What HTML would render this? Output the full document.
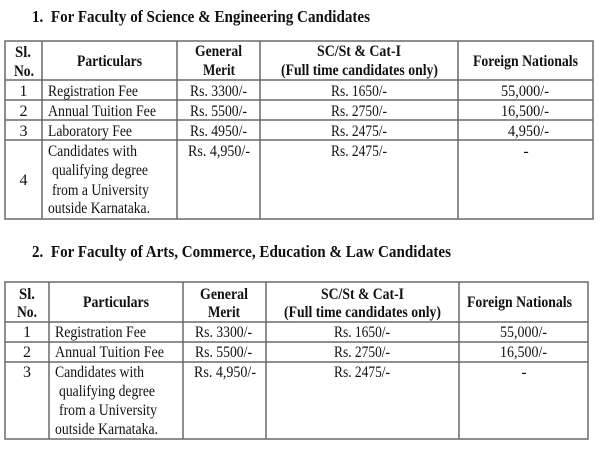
<!DOCTYPE html>
<html><head><meta charset="utf-8"><style>
html,body{margin:0;padding:0;background:#fff;}
svg{display:block;}
text{font-family:"Liberation Serif","Times New Roman",serif;fill:#111;}
.b{font-weight:bold;}
</style></head><body>
<svg width="600" height="450" viewBox="0 0 600 450" xmlns="http://www.w3.org/2000/svg">
<rect width="600" height="450" fill="#fff"/>
<!-- Title 1 -->
<text class="b" x="32" y="22" font-size="17" textLength="338" lengthAdjust="spacingAndGlyphs" xml:space="preserve">1.  For Faculty of Science &amp; Engineering Candidates</text>
<!-- Table 1 lines -->
<g stroke="#6a6a6a" stroke-width="1.5" fill="none">
<rect x="5" y="41" width="588" height="178"/>
<line x1="42" y1="41" x2="42" y2="219"/>
<line x1="177" y1="41" x2="177" y2="219"/>
<line x1="260" y1="41" x2="260" y2="219"/>
<line x1="458" y1="41" x2="458" y2="219"/>
<line x1="5" y1="80" x2="593" y2="80"/>
<line x1="5" y1="100" x2="593" y2="100"/>
<line x1="5" y1="120" x2="593" y2="120"/>
<line x1="5" y1="140" x2="593" y2="140"/>
</g>
<g font-size="16">
<text class="b" x="15" y="57" textLength="16" lengthAdjust="spacingAndGlyphs">Sl.</text>
<text class="b" x="14" y="76" textLength="20" lengthAdjust="spacingAndGlyphs">No.</text>
<text class="b" x="77" y="66" textLength="65" lengthAdjust="spacingAndGlyphs">Particulars</text>
<text class="b" x="195" y="56" textLength="47" lengthAdjust="spacingAndGlyphs">General</text>
<text class="b" x="203" y="75" textLength="32" lengthAdjust="spacingAndGlyphs">Merit</text>
<text class="b" x="317" y="56" textLength="84" lengthAdjust="spacingAndGlyphs">SC/St &amp; Cat-I</text>
<text class="b" x="281" y="75" textLength="157" lengthAdjust="spacingAndGlyphs">(Full time candidates only)</text>
<text class="b" x="473" y="66" textLength="105" lengthAdjust="spacingAndGlyphs">Foreign Nationals</text>

<text x="23.5" y="96" text-anchor="middle">1</text>
<text x="23.5" y="116" text-anchor="middle">2</text>
<text x="23.5" y="136" text-anchor="middle">3</text>
<text x="23.5" y="185" text-anchor="middle">4</text>

<text x="48" y="96" textLength="90" lengthAdjust="spacingAndGlyphs">Registration Fee</text>
<text x="48" y="116" textLength="108" lengthAdjust="spacingAndGlyphs">Annual Tuition Fee</text>
<text x="48" y="136" textLength="84" lengthAdjust="spacingAndGlyphs">Laboratory Fee</text>
<text x="48" y="156" textLength="89" lengthAdjust="spacingAndGlyphs">Candidates with</text>
<text x="52" y="175" textLength="96" lengthAdjust="spacingAndGlyphs">qualifying degree</text>
<text x="52" y="195" textLength="97" lengthAdjust="spacingAndGlyphs">from a University</text>
<text x="48" y="213" textLength="102" lengthAdjust="spacingAndGlyphs">outside Karnataka.</text>

<text x="190" y="96" textLength="57" lengthAdjust="spacingAndGlyphs">Rs. 3300/-</text>
<text x="190" y="116" textLength="57" lengthAdjust="spacingAndGlyphs">Rs. 5500/-</text>
<text x="190" y="136" textLength="57" lengthAdjust="spacingAndGlyphs">Rs. 4950/-</text>
<text x="188" y="156" textLength="62" lengthAdjust="spacingAndGlyphs">Rs. 4,950/-</text>

<text x="331" y="96" textLength="56" lengthAdjust="spacingAndGlyphs">Rs. 1650/-</text>
<text x="331" y="116" textLength="56" lengthAdjust="spacingAndGlyphs">Rs. 2750/-</text>
<text x="331" y="136" textLength="56" lengthAdjust="spacingAndGlyphs">Rs. 2475/-</text>
<text x="331" y="156" textLength="56" lengthAdjust="spacingAndGlyphs">Rs. 2475/-</text>

<text x="501" y="96" textLength="48" lengthAdjust="spacingAndGlyphs">55,000/-</text>
<text x="501" y="116" textLength="48" lengthAdjust="spacingAndGlyphs">16,500/-</text>
<text x="508" y="136" textLength="41" lengthAdjust="spacingAndGlyphs">4,950/-</text>
<text x="526" y="156" text-anchor="middle">-</text>
</g>

<!-- Title 2 -->
<text class="b" x="32" y="257" font-size="17" textLength="419" lengthAdjust="spacingAndGlyphs" xml:space="preserve">2.  For Faculty of Arts, Commerce, Education &amp; Law Candidates</text>
<g stroke="#6a6a6a" stroke-width="1.5" fill="none">
<rect x="5" y="282" width="583" height="157"/>
<line x1="49" y1="282" x2="49" y2="439"/>
<line x1="183" y1="282" x2="183" y2="439"/>
<line x1="266" y1="282" x2="266" y2="439"/>
<line x1="459" y1="282" x2="459" y2="439"/>
<line x1="5" y1="322" x2="588" y2="322"/>
<line x1="5" y1="342" x2="588" y2="342"/>
<line x1="5" y1="362" x2="588" y2="362"/>
</g>
<g font-size="16">
<text class="b" x="19" y="299" textLength="16" lengthAdjust="spacingAndGlyphs">Sl.</text>
<text class="b" x="17" y="317" textLength="20" lengthAdjust="spacingAndGlyphs">No.</text>
<text class="b" x="83" y="307" textLength="66" lengthAdjust="spacingAndGlyphs">Particulars</text>
<text class="b" x="200" y="299" textLength="48" lengthAdjust="spacingAndGlyphs">General</text>
<text class="b" x="208" y="317" textLength="32" lengthAdjust="spacingAndGlyphs">Merit</text>
<text class="b" x="321" y="299" textLength="83" lengthAdjust="spacingAndGlyphs">SC/St &amp; Cat-I</text>
<text class="b" x="284" y="317" textLength="157" lengthAdjust="spacingAndGlyphs">(Full time candidates only)</text>
<text class="b" x="467" y="307" textLength="105" lengthAdjust="spacingAndGlyphs">Foreign Nationals</text>

<text x="27" y="337" text-anchor="middle">1</text>
<text x="27" y="357" text-anchor="middle">2</text>
<text x="27" y="377" text-anchor="middle">3</text>

<text x="55" y="337" textLength="91" lengthAdjust="spacingAndGlyphs">Registration Fee</text>
<text x="55" y="357" textLength="109" lengthAdjust="spacingAndGlyphs">Annual Tuition Fee</text>
<text x="55" y="377" textLength="89" lengthAdjust="spacingAndGlyphs">Candidates with</text>
<text x="59" y="396" textLength="96" lengthAdjust="spacingAndGlyphs">qualifying degree</text>
<text x="59" y="415" textLength="98" lengthAdjust="spacingAndGlyphs">from a University</text>
<text x="55" y="434" textLength="103" lengthAdjust="spacingAndGlyphs">outside Karnataka.</text>

<text x="195" y="337" textLength="57" lengthAdjust="spacingAndGlyphs">Rs. 3300/-</text>
<text x="195" y="357" textLength="57" lengthAdjust="spacingAndGlyphs">Rs. 5500/-</text>
<text x="194" y="377" textLength="62" lengthAdjust="spacingAndGlyphs">Rs. 4,950/-</text>

<text x="334" y="337" textLength="56" lengthAdjust="spacingAndGlyphs">Rs. 1650/-</text>
<text x="334" y="357" textLength="56" lengthAdjust="spacingAndGlyphs">Rs. 2750/-</text>
<text x="334" y="377" textLength="56" lengthAdjust="spacingAndGlyphs">Rs. 2475/-</text>

<text x="500" y="337" textLength="47" lengthAdjust="spacingAndGlyphs">55,000/-</text>
<text x="500" y="357" textLength="47" lengthAdjust="spacingAndGlyphs">16,500/-</text>
<text x="524" y="377" text-anchor="middle">-</text>
</g>
</svg>
</body></html>
